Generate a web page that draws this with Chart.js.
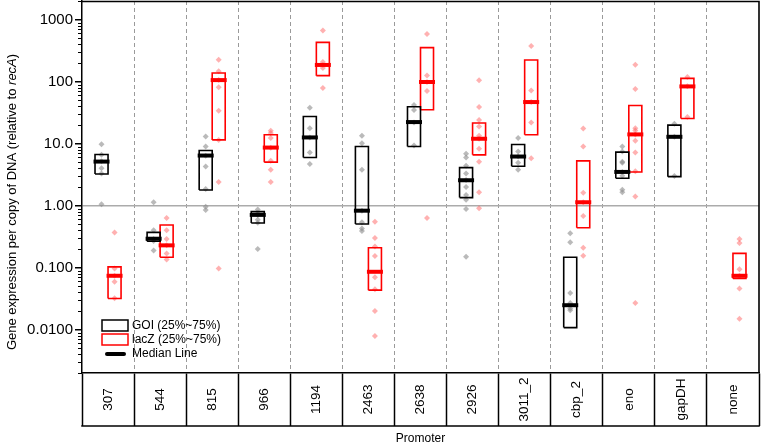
<!DOCTYPE html>
<html><head><meta charset="utf-8">
<script src="https://cdn.jsdelivr.net/npm/chart.js@4"></script>
<style>html,body{margin:0;padding:0;background:#fff;} canvas{display:block;}</style>
</head><body>
<canvas id="c" width="761" height="446"></canvas>
<script>
const categories = ['307','544','815','966','1194','2463','2638','2926','3011_2','cbp_2','eno','gapDH','none'];

// GOI interquartile box (25%..75%) and median
const goiQ1     = [3.25, 0.266, 1.79, 0.525, 5.97, 0.506, 8.99, 1.35, 4.33, 0.0108, 2.77, 2.94, null];
const goiQ3     = [6.67, 0.371, 7.74, 0.80, 27.5, 8.99, 39.4, 4.11, 9.68, 0.147, 7.3, 19.9, null];
const goiMedian = [5.14, 0.293, 6.43, 0.71, 12.6, 0.83, 22.3, 2.57, 6.2, 0.0248, 3.5, 12.9, null];

// lacZ interquartile box (25%..75%) and median
const lacQ1     = [0.0318, 0.147, 11.5, 5.03, 125, 0.0434, 35.2, 6.6, 13.9, 0.441, 3.5, 25.5, 0.0671];
const lacQ3     = [0.103, 0.488, 138, 13.9, 431, 0.21, 354, 21.5, 224, 5.28, 41.3, 113, 0.170];
const lacMedian = [0.074, 0.229, 106, 8.65, 186, 0.0858, 98.7, 12.0, 46.9, 1.135, 14.1, 83.8, 0.074];

// individual measurements
const goiPoints = [
  [1.05, 3.3, 4.0, 5.2, 6.6, 9.8],
  [0.19, 0.27, 0.29, 0.40, 1.13],
  [0.85, 0.96, 1.86, 4.3, 6.4, 9.0, 13.0],
  [0.20, 0.53, 0.59, 0.71, 0.75, 0.87],
  [4.7, 7.2, 12.6, 17.8, 38],
  [0.39, 0.43, 0.54, 0.83, 3.8, 10.2, 13.4],
  [9.3, 22, 35, 42],
  [0.15, 0.88, 1.24, 1.49, 2.0, 2.6, 3.3, 4.4, 6.0, 6.9],
  [3.8, 4.9, 6.2, 7.5, 12.3],
  [0.0206, 0.022, 0.027, 0.039, 0.256, 0.36],
  [1.65, 1.8, 3.05, 3.5, 4.9, 5.1, 7.5, 9.0],
  [3.0, 12.9, 21],
  []
];
const lacPoints = [
  [0.032, 0.059, 0.074, 0.097, 0.37],
  [0.136, 0.17, 0.23, 0.29, 0.40, 0.63],
  [0.097, 2.4, 11.5, 34, 81, 106, 147, 226],
  [2.4, 3.8, 5.3, 8.6, 12.3, 14.8, 16.1],
  [79, 166, 186, 208, 666],
  [0.0079, 0.020, 0.045, 0.070, 0.154, 0.22, 0.30, 0.55],
  [0.63, 71, 99, 126, 589],
  [0.91, 1.65, 5.1, 8.3, 12, 13.4, 18.9, 24, 39, 105],
  [5.8, 22, 47, 72, 377],
  [0.156, 0.21, 0.68, 1.13, 1.62, 9.0, 17.6],
  [0.027, 1.4, 3.6, 7.2, 11.1, 14, 16.3, 17.8, 76, 188],
  [27, 84, 119],
  [0.015, 0.046, 0.074, 0.094, 0.25, 0.29]
];

const yTickValues = [0.01, 0.1, 1, 10, 100, 1000];
const yTickLabels = ['0.0100', '0.100', '1.00', '10.0', '100', '1000'];
const yMin = 0.002, yMax = 2000;

const FONT = '"Liberation Sans", Arial, sans-serif';
const BW = 0.25;   // box width in category units

function boxOutlines(q1, q3, x0) {
  const out = [];
  q1.forEach((lo, i) => {
    if (lo == null) return;
    const hi = q3[i], a = i + x0, b = a + BW;
    out.push({x: a, y: lo}, {x: a, y: hi}, {x: b, y: hi}, {x: b, y: lo}, {x: a, y: lo}, {x: a, y: null});
  });
  return out;
}
function points(lists, dx) { const out = []; lists.forEach((l, i) => l.forEach(v => out.push({x: i + dx, y: v}))); return out; }
function medians(m, dx) { return m.map((v, i) => v == null ? null : {x: i + dx, y: v}).filter(Boolean); }
function noPad(s) { s.paddingLeft = 0; s.paddingRight = 0; s.paddingTop = 0; s.paddingBottom = 0; }

const decor = {
  id: 'decor',
  afterDraw(chart) {
    const {ctx, chartArea: ca, scales} = chart;
    const xs = scales.x, ys = scales.y;
    ctx.save();
    // minor ticks on the log axis
    ctx.strokeStyle = '#000'; ctx.lineWidth = 1;
    for (let e = -3; e <= 3; e++) for (let m = 2; m <= 9; m++) {
      const v = m * Math.pow(10, e);
      if (v < yMin || v > yMax) continue;
      const py = Math.round(ys.getPixelForValue(v)) + 0.5;
      ctx.beginPath(); ctx.moveTo(ca.left - 4, py); ctx.lineTo(ca.left, py); ctx.stroke();
    }
    // frame top and right
    ctx.lineWidth = 1.6;
    ctx.beginPath(); ctx.moveTo(ca.left, ca.top + 0.5); ctx.lineTo(ca.right, ca.top + 0.5); ctx.lineTo(ca.right, ca.bottom); ctx.stroke();
    // table bottom
    const tl = xs.options.grid.tickLength;
    const tb = xs.top + tl;
    ctx.lineWidth = 1.5;
    ctx.beginPath(); ctx.moveTo(ca.left - 0.75, tb); ctx.lineTo(ca.right + 0.75, tb); ctx.stroke();
    // category labels (rotated, centered in each cell)
    ctx.fillStyle = '#000'; ctx.font = '13.5px ' + FONT; ctx.textAlign = 'center'; ctx.textBaseline = 'middle';
    categories.forEach((c, i) => {
      const px = xs.getPixelForValue(i);
      ctx.save(); ctx.translate(px, xs.top + tl / 2); ctx.rotate(-Math.PI / 2); ctx.fillText(c, 0, 0); ctx.restore();
    });
    // y title with italic recA
    const parts = [['Gene expression per copy of DNA (relative to ', ''], ['recA', 'italic '], [')', '']];
    let W = 0;
    parts.forEach(p => { ctx.font = p[1] + '13px ' + FONT; p.push(ctx.measureText(p[0]).width); W += p[2]; });
    ctx.save(); ctx.translate(12, (ca.top + ca.bottom) / 2 + 15); ctx.rotate(-Math.PI / 2);
    ctx.textAlign = 'left'; let tx = -W / 2;
    parts.forEach(p => { ctx.font = p[1] + '13px ' + FONT; ctx.fillText(p[0], tx, 0); tx += p[2]; });
    ctx.restore();
    // legend
    const lx = ca.left + 20, ly = ca.bottom - 53;
    ctx.lineWidth = 1.5;
    ctx.strokeStyle = '#000'; ctx.strokeRect(lx, ly, 26, 11);
    ctx.strokeStyle = '#ff0000'; ctx.strokeRect(lx, ly + 14, 26, 11);
    ctx.strokeStyle = '#000'; ctx.lineWidth = 4; ctx.lineCap = 'round';
    ctx.beginPath(); ctx.moveTo(lx + 5, ly + 34); ctx.lineTo(lx + 22, ly + 34); ctx.stroke();
    ctx.fillStyle = '#000'; ctx.font = '12px ' + FONT; ctx.textAlign = 'left'; ctx.textBaseline = 'middle';
    ctx.fillText('GOI (25%~75%)', lx + 30, ly + 5.5);
    ctx.fillText('lacZ (25%~75%)', lx + 30, ly + 20);
    ctx.fillText('Median Line', lx + 30, ly + 34);
    ctx.restore();
  }
};

const lineBox = { showLine: true, pointRadius: 0, borderWidth: 1.6, spanGaps: false, tension: 0, fill: false, borderJoinStyle: 'miter', order: 2 };

new Chart(document.getElementById('c'), {
  type: 'scatter',
  data: {
    datasets: [
      Object.assign({ label: 'GOI (25%~75%)', data: boxOutlines(goiQ1, goiQ3, -BW), borderColor: '#000' }, lineBox),
      Object.assign({ label: 'lacZ (25%~75%)', data: boxOutlines(lacQ1, lacQ3, 0), borderColor: '#ff0000' }, lineBox),
      { label: 'GOI points', data: points(goiPoints, -BW / 2), pointStyle: 'rectRot', radius: 3, backgroundColor: 'rgba(140,140,140,0.6)', borderWidth: 0, order: 3 },
      { label: 'lacZ points', data: points(lacPoints, BW / 2), pointStyle: 'rectRot', radius: 3, backgroundColor: 'rgba(255,100,100,0.5)', borderWidth: 0, order: 3 },
      { label: 'GOI median', data: medians(goiMedian, -BW / 2), pointStyle: 'line', radius: 8, borderColor: '#000', borderWidth: 4, order: 1 },
      { label: 'lacZ median', data: medians(lacMedian, BW / 2), pointStyle: 'line', radius: 8, borderColor: '#ff0000', borderWidth: 4, order: 1 }
    ]
  },
  options: {
    responsive: false,
    animation: false,
    events: [],
    layout: { autoPadding: false, padding: { top: 1, right: 2, left: 0, bottom: 0 } },
    plugins: { legend: { display: false }, tooltip: { enabled: false } },
    scales: {
      x: {
        type: 'linear', min: -0.5, max: categories.length - 0.5, offset: false,
        afterBuildTicks: (s) => { s.ticks = categories.concat(['']).map((c, k) => ({ value: k - 0.5 })); },
        grid: {
          drawOnChartArea: true, drawTicks: true, tickLength: 53,
          color: (c) => (c.index === 0 || c.index === categories.length || c.index === undefined) ? 'rgba(0,0,0,0)' : '#9a9a9a',
          lineWidth: 1, tickColor: '#000', tickWidth: 1.5, tickBorderDash: []
        },
        border: { display: true, color: '#000', width: 1.5, dash: [4, 3] },
        ticks: { display: false },
        title: { display: true, text: 'Promoter', color: '#000', font: { family: FONT, size: 12 }, padding: { top: 0, bottom: 0 } },
        afterFit: (s) => { s.height = 73; noPad(s); }
      },
      y: {
        type: 'logarithmic', min: yMin, max: yMax,
        afterBuildTicks: (s) => { s.ticks = yTickValues.map(v => ({ value: v })); },
        ticks: {
          color: '#000', font: { family: FONT, size: 15 }, padding: 2, autoSkip: false,
          callback: (v) => { const i = yTickValues.indexOf(v); return i >= 0 ? yTickLabels[i] : ''; }
        },
        grid: {
          drawOnChartArea: true, drawTicks: true, tickLength: 7,
          color: (c) => (c.tick && c.tick.value === 1) ? '#ababab' : 'rgba(0,0,0,0)',
          lineWidth: 1.5, tickColor: '#000', tickWidth: 1.5
        },
        border: { display: true, color: '#000', width: 1.5 },
        afterFit: (s) => { s.width = 82; noPad(s); }
      }
    }
  },
  plugins: [decor]
});
</script>
</body></html>
